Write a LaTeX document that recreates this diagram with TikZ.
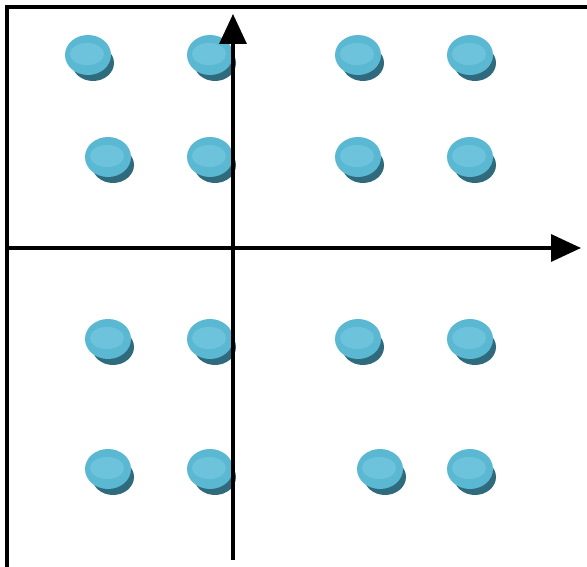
\documentclass[tikz,border=0pt]{standalone}
\usetikzlibrary{arrows.meta}
\definecolor{dotmain}{HTML}{5BB8D2}
\definecolor{dotshade}{HTML}{2F6B7C}
\definecolor{dotlight}{HTML}{7ACBE2}
\tikzset{
  dotshadow/.style={fill=dotshade, draw=none},
  dotface/.style={fill=dotmain, draw=none},
  dothl/.style={fill=dotlight, draw=none, opacity=0.6},
  axis/.style={line width=3.4pt, -{Triangle[length=30pt,width=27pt]}},
  frameline/.style={line width=3.6pt}
}
\newcommand{\qamdot}[2]{%
  \fill[dotshadow] (#1+5,#2-8) ellipse (21 and 18);
  \fill[dotface] (#1,#2) ellipse (23 and 20);
  \fill[dothl] (#1-1,#2+1) ellipse (17 and 11);
}
\begin{document}
\begin{tikzpicture}[x=1pt,y=1pt]
\useasboundingbox (0,0) rectangle (587,567);
% frame (top and left only)
\draw[frameline] (7,0) -- (7,560) -- (587,560);
% dots
\foreach \x/\y in {88/512, 210/512, 358/512, 470/512,
                   108/410, 210/410, 358/410, 470/410,
                   108/228, 210/228, 358/228, 470/228,
                   108/98,  210/98,  380/98,  470/98} {
  \qamdot{\x}{\y}
}
% axes
\coordinate (xl) at (8,319);
\coordinate (xr) at (581,319);
\coordinate (yb) at (233,7);
\coordinate (yt) at (233,553);
\draw[axis] (xl) -- (xr);
\draw[axis] (yb) -- (yt);
\end{tikzpicture}
\end{document}
